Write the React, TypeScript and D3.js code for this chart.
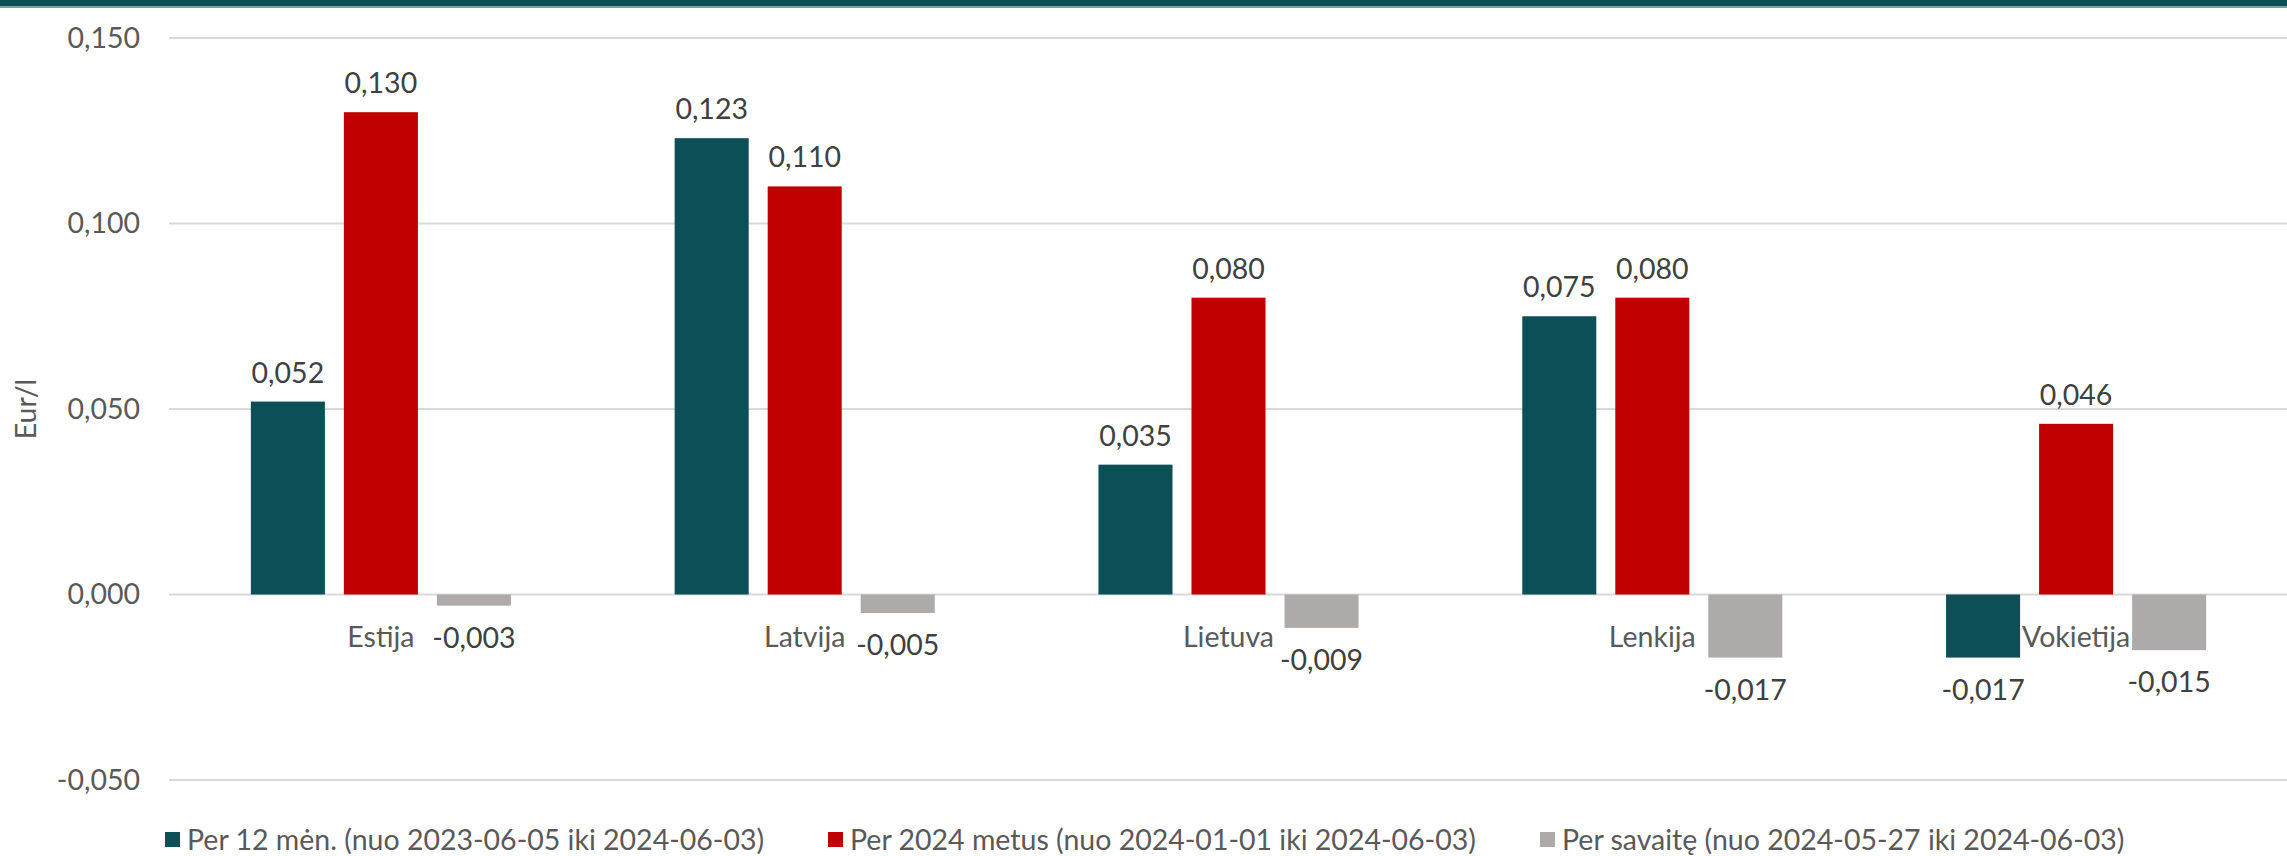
import { useEffect, useRef } from 'react';
import * as d3 from 'd3';

const categories = ['Estija', 'Latvija', 'Lietuva', 'Lenkija', 'Vokietija'];
const seriesNames = [
  'Per 12 mėn. (nuo 2023-06-05 iki 2024-06-03)',
  'Per 2024 metus (nuo 2024-01-01 iki 2024-06-03)',
  'Per savaitę (nuo 2024-05-27 iki 2024-06-03)',
];
const per12men = [0.052, 0.123, 0.035, 0.075, -0.017];
const per2024 = [0.13, 0.11, 0.08, 0.08, 0.046];
const perSavaite = [-0.003, -0.005, -0.009, -0.017, -0.015];
const yTicks = [-0.05, 0, 0.05, 0.1, 0.15];
const colors = ['#0b4f57', '#c00000', '#aeaaaa'];

const W = 2287;
const H = 856;
const FONT = 'Lato, "Open Sans", sans-serif';
const FS = '28.5px';

const App: React.FC = () => {
  const svgRef = useRef<SVGSVGElement | null>(null);

  useEffect(() => {
    if (svgRef.current === null) return;
    document.body.style.margin = '0';

    const svg = d3.select(svgRef.current);
    svg.selectAll('*').remove();

    const values = [per12men, per2024, perSavaite];

    // skalės
    const x0 = d3.scaleBand<string>().domain(categories).range([169, W + 1]).padding(0);
    const x1 = d3
      .scaleBand<number>()
      .domain([0, 1, 2])
      .range([0, x0.bandwidth()])
      .paddingInner(0.204)
      .paddingOuter(0.88);
    const y = d3.scaleLinear().domain([-0.05, 0.15]).range([780, 38]);
    const fmt = (v: number) => d3.format('.3f')(v).replace('.', ',').replace('−', '-');

    svg.append('rect').attr('width', W).attr('height', H).attr('fill', '#fff');

    // viršutinė juosta
    svg.append('rect').attr('x', 0).attr('y', 0).attr('width', W).attr('height', 6.5).attr('fill', '#0b4f57');
    svg.append('rect').attr('x', 0).attr('y', 6.5).attr('width', W).attr('height', 1.5).attr('fill', '#7d9a9d');

    // tinklelis
    svg
      .selectAll('.grid')
      .data(yTicks)
      .enter()
      .append('line')
      .attr('x1', 169)
      .attr('x2', W)
      .attr('y1', (d) => y(d))
      .attr('y2', (d) => y(d))
      .attr('stroke', '#d9d9d9')
      .attr('stroke-width', 2);

    svg
      .selectAll('.ytick')
      .data(yTicks)
      .enter()
      .append('text')
      .attr('x', 140)
      .attr('y', (d) => y(d))
      .attr('dy', '0.35em')
      .attr('text-anchor', 'end')
      .attr('fill', '#595959')
      .style('font-family', FONT)
      .style('font-size', FS)
      .text((d) => fmt(d));

    svg
      .append('text')
      .attr('transform', `translate(26,${y(0.05)}) rotate(-90)`)
      .attr('text-anchor', 'middle')
      .attr('dy', '0.35em')
      .attr('fill', '#595959')
      .style('font-family', FONT)
      .style('font-size', FS)
      .text('Eur/l');

    // stulpeliai
    values.forEach((vals, si) => {
      const g = svg.append('g');
      g.selectAll('rect')
        .data(vals)
        .enter()
        .append('rect')
        .attr('x', (_, i) => x0(categories[i])! + x1(si)!)
        .attr('width', x1.bandwidth())
        .attr('y', (d) => (d >= 0 ? y(d) : y(0)))
        .attr('height', (d) => Math.abs(y(d) - y(0)))
        .attr('fill', colors[si]);
    });

    // kategorijų pavadinimai
    svg
      .selectAll('.cat')
      .data(categories)
      .enter()
      .append('text')
      .attr('x', (d) => x0(d)! + x0.bandwidth() / 2)
      .attr('y', 637)
      .attr('dy', '0.35em')
      .attr('text-anchor', 'middle')
      .attr('fill', '#595959')
      .style('font-family', FONT)
      .style('font-size', FS)
      .text((d) => d);

    // reikšmių etiketės
    values.forEach((vals, si) => {
      svg
        .append('g')
        .selectAll('text')
        .data(vals)
        .enter()
        .append('text')
        .attr('x', (_, i) => x0(categories[i])! + x1(si)! + x1.bandwidth() / 2)
        .attr('y', (d) => (d >= 0 ? y(d) - 29 : y(d) + 32))
        .attr('dy', '0.35em')
        .attr('text-anchor', 'middle')
        .attr('fill', '#404040')
        .style('font-family', FONT)
        .style('font-size', FS)
        .text((d) => fmt(d));
    });

    // legenda
    const legendX = [165, 828, 1540];
    seriesNames.forEach((name, i) => {
      svg
        .append('rect')
        .attr('x', legendX[i])
        .attr('y', 832)
        .attr('width', 15)
        .attr('height', 15)
        .attr('fill', colors[i]);
      svg
        .append('text')
        .attr('x', legendX[i] + 22)
        .attr('y', 840)
        .attr('dy', '0.35em')
        .attr('fill', '#595959')
        .style('font-family', FONT)
        .style('font-size', FS)
        .text(name);
    });
  }, []);

  return <svg ref={svgRef} width={W} height={H} style={{ display: 'block' }}></svg>;
};

export default App;
